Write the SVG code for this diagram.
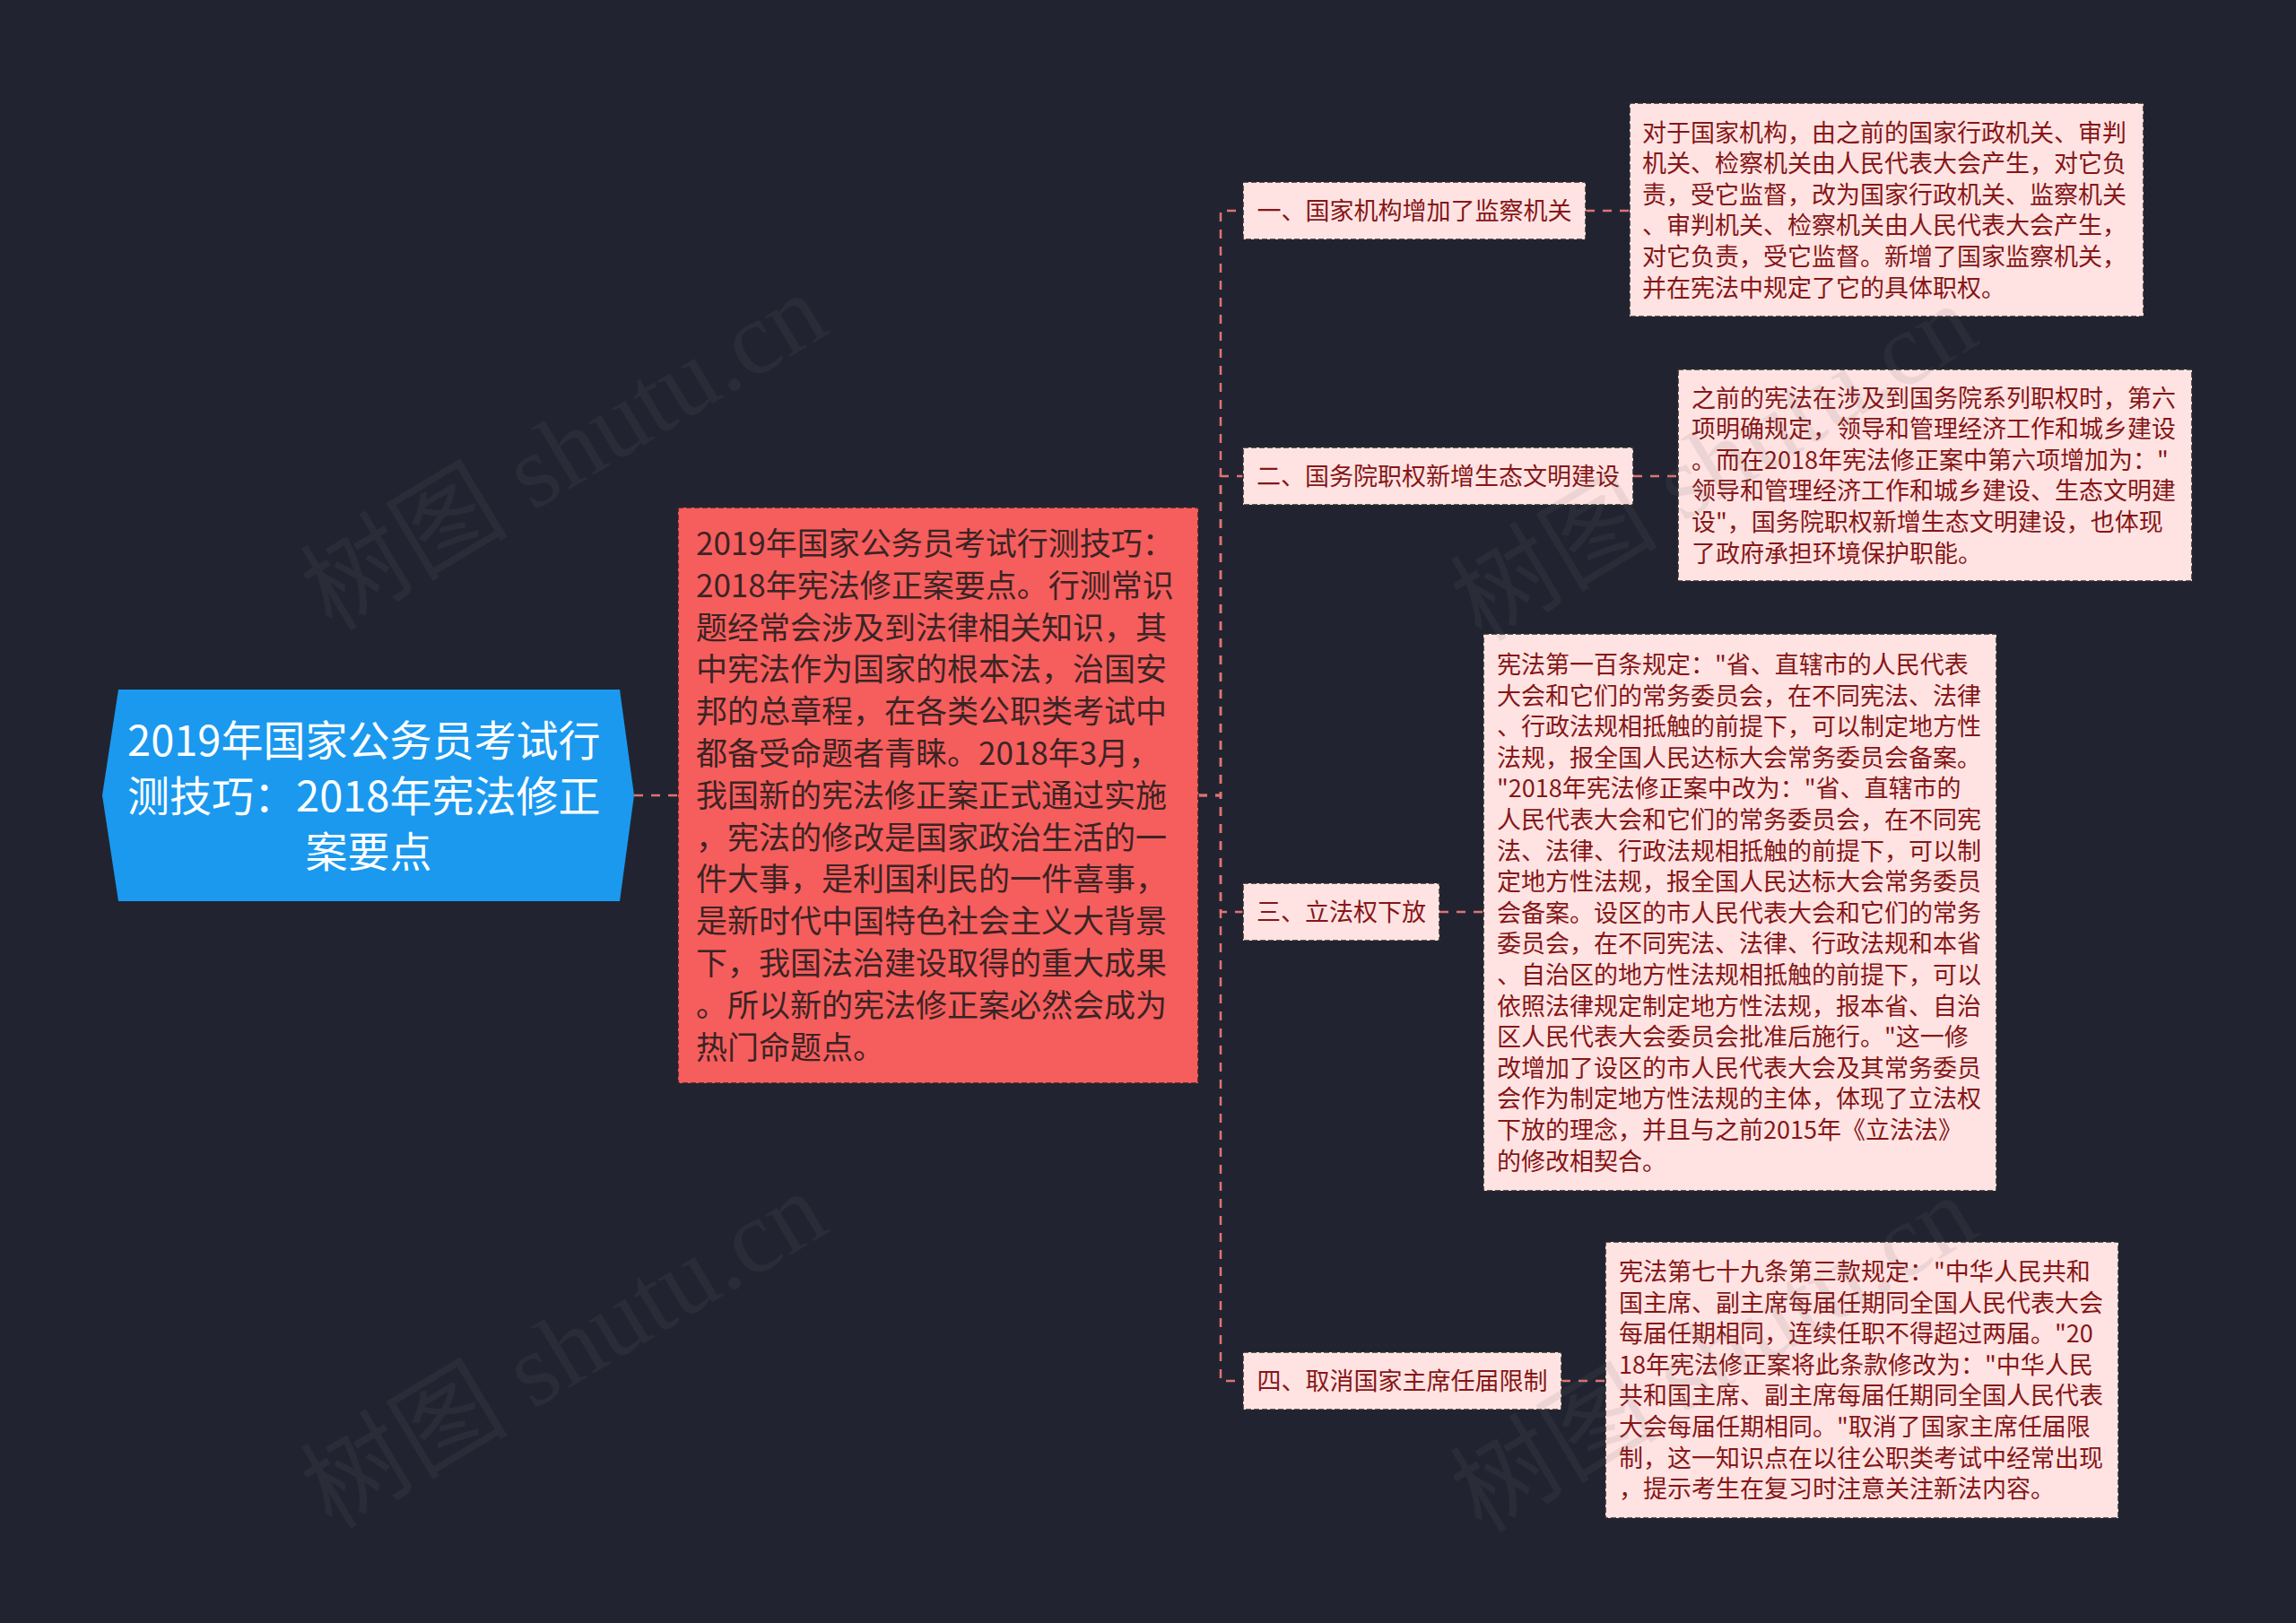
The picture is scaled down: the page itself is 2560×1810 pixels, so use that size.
<svg xmlns="http://www.w3.org/2000/svg" width="2560" height="1810" viewBox="0 0 2560 1810">
<style>
.bg{fill:#212430}
.cjk{font-family:"Noto Sans CJK SC","Noto Sans",sans-serif}
.root-shape{fill:#1A99EF}
.root-text{fill:#FFFFFF;font-size:47px;text-anchor:middle}
.main-box{fill:#F65D5D;stroke:#3a2222;stroke-width:1.5;stroke-dasharray:6 3}
.main-text{fill:#3A2424;font-size:35px}
.box{fill:#FFE3E3;stroke:#2e2a2a;stroke-width:1.5;stroke-dasharray:6 3}
.branch-text{fill:#861616;font-size:27px;text-anchor:middle}
.leaf-text{fill:#861616;font-size:27px}
.conn{fill:none;stroke:#E07373;stroke-width:2.5;stroke-dasharray:10 9}
.wm{fill:rgba(110,110,110,0.12);font-size:116px;font-family:"Liberation Serif","Noto Sans CJK SC",serif}
</style>
<rect class="bg" x="0" y="0" width="2560" height="1810"/>

<g id="connectors">
<path class="conn" d="M707 887 H756"/>
<path class="conn" d="M1336 887 H1361 V235 H1386"/>
<path class="conn" d="M1336 887 H1361 V531 H1386"/>
<path class="conn" d="M1336 887 H1361 V1017 H1386"/>
<path class="conn" d="M1336 887 H1361 V1540 H1386"/>
<path class="conn" d="M1768 235 H1817"/>
<path class="conn" d="M1821 531 H1871"/>
<path class="conn" d="M1605 1017 H1654"/>
<path class="conn" d="M1741 1540 H1790"/>
</g>

<g id="root">
<polygon class="root-shape" points="114,887 132,769 691,769 707,887 691,1005 132,1005"/>
<text class="cjk root-text" x="411" y="843">
<tspan x="411" dy="0">2019年国家公务员考试行</tspan>
<tspan x="411" dy="62">测技巧：2018年宪法修正</tspan>
<tspan x="411" dy="62">案要点</tspan>
</text>
</g>

<g id="main">
<rect class="main-box" x="756" y="566" width="580" height="642"/>
<text class="cjk main-text" x="776" y="619">
<tspan x="776" dy="0">2019年国家公务员考试行测技巧：</tspan>
<tspan x="776" dy="46.8">2018年宪法修正案要点。行测常识</tspan>
<tspan x="776" dy="46.8">题经常会涉及到法律相关知识，其</tspan>
<tspan x="776" dy="46.8">中宪法作为国家的根本法，治国安</tspan>
<tspan x="776" dy="46.8">邦的总章程，在各类公职类考试中</tspan>
<tspan x="776" dy="46.8">都备受命题者青睐。2018年3月，</tspan>
<tspan x="776" dy="46.8">我国新的宪法修正案正式通过实施</tspan>
<tspan x="776" dy="46.8">，宪法的修改是国家政治生活的一</tspan>
<tspan x="776" dy="46.8">件大事，是利国利民的一件喜事，</tspan>
<tspan x="776" dy="46.8">是新时代中国特色社会主义大背景</tspan>
<tspan x="776" dy="46.8">下，我国法治建设取得的重大成果</tspan>
<tspan x="776" dy="46.8">。所以新的宪法修正案必然会成为</tspan>
<tspan x="776" dy="46.8">热门命题点。</tspan>
</text>
</g>

<g id="branch1">
<rect class="box" x="1386" y="203" width="382" height="64"/>
<text class="cjk branch-text" x="1577" y="245">一、国家机构增加了监察机关</text>
</g>
<g id="branch2">
<rect class="box" x="1386" y="499" width="435" height="64"/>
<text class="cjk branch-text" x="1603.5" y="541">二、国务院职权新增生态文明建设</text>
</g>
<g id="branch3">
<rect class="box" x="1386" y="985" width="219" height="64"/>
<text class="cjk branch-text" x="1495.5" y="1027">三、立法权下放</text>
</g>
<g id="branch4">
<rect class="box" x="1386" y="1508" width="355" height="64"/>
<text class="cjk branch-text" x="1563.5" y="1550">四、取消国家主席任届限制</text>
</g>

<g id="leaf1">
<rect class="box" x="1817" y="115" width="573" height="238"/>
<text class="cjk leaf-text" x="1831" y="157.5">
<tspan x="1831" dy="0">对于国家机构，由之前的国家行政机关、审判</tspan>
<tspan x="1831" dy="34.6">机关、检察机关由人民代表大会产生，对它负</tspan>
<tspan x="1831" dy="34.6">责，受它监督，改为国家行政机关、监察机关</tspan>
<tspan x="1831" dy="34.6">、审判机关、检察机关由人民代表大会产生，</tspan>
<tspan x="1831" dy="34.6">对它负责，受它监督。新增了国家监察机关，</tspan>
<tspan x="1831" dy="34.6">并在宪法中规定了它的具体职权。</tspan>
</text>
</g>

<g id="leaf2">
<rect class="box" x="1871" y="412" width="573" height="236"/>
<text class="cjk leaf-text" x="1886" y="453.5">
<tspan x="1886" dy="0">之前的宪法在涉及到国务院系列职权时，第六</tspan>
<tspan x="1886" dy="34.6">项明确规定，领导和管理经济工作和城乡建设</tspan>
<tspan x="1886" dy="34.6">。而在2018年宪法修正案中第六项增加为："</tspan>
<tspan x="1886" dy="34.6">领导和管理经济工作和城乡建设、生态文明建</tspan>
<tspan x="1886" dy="34.6">设"，国务院职权新增生态文明建设，也体现</tspan>
<tspan x="1886" dy="34.6">了政府承担环境保护职能。</tspan>
</text>
</g>

<g id="leaf3">
<rect class="box" x="1654" y="707" width="572" height="621"/>
<text class="cjk leaf-text" x="1669" y="751">
<tspan x="1669" dy="0">宪法第一百条规定："省、直辖市的人民代表</tspan>
<tspan x="1669" dy="34.6">大会和它们的常务委员会，在不同宪法、法律</tspan>
<tspan x="1669" dy="34.6">、行政法规相抵触的前提下，可以制定地方性</tspan>
<tspan x="1669" dy="34.6">法规，报全国人民达标大会常务委员会备案。</tspan>
<tspan x="1669" dy="34.6">"2018年宪法修正案中改为："省、直辖市的</tspan>
<tspan x="1669" dy="34.6">人民代表大会和它们的常务委员会，在不同宪</tspan>
<tspan x="1669" dy="34.6">法、法律、行政法规相抵触的前提下，可以制</tspan>
<tspan x="1669" dy="34.6">定地方性法规，报全国人民达标大会常务委员</tspan>
<tspan x="1669" dy="34.6">会备案。设区的市人民代表大会和它们的常务</tspan>
<tspan x="1669" dy="34.6">委员会，在不同宪法、法律、行政法规和本省</tspan>
<tspan x="1669" dy="34.6">、自治区的地方性法规相抵触的前提下，可以</tspan>
<tspan x="1669" dy="34.6">依照法律规定制定地方性法规，报本省、自治</tspan>
<tspan x="1669" dy="34.6">区人民代表大会委员会批准后施行。"这一修</tspan>
<tspan x="1669" dy="34.6">改增加了设区的市人民代表大会及其常务委员</tspan>
<tspan x="1669" dy="34.6">会作为制定地方性法规的主体，体现了立法权</tspan>
<tspan x="1669" dy="34.6">下放的理念，并且与之前2015年《立法法》</tspan>
<tspan x="1669" dy="34.6">的修改相契合。</tspan>
</text>
</g>

<g id="leaf4">
<rect class="box" x="1790" y="1385" width="572" height="308"/>
<text class="cjk leaf-text" x="1805" y="1428">
<tspan x="1805" dy="0">宪法第七十九条第三款规定："中华人民共和</tspan>
<tspan x="1805" dy="34.6">国主席、副主席每届任期同全国人民代表大会</tspan>
<tspan x="1805" dy="34.6">每届任期相同，连续任职不得超过两届。"20</tspan>
<tspan x="1805" dy="34.6">18年宪法修正案将此条款修改为："中华人民</tspan>
<tspan x="1805" dy="34.6">共和国主席、副主席每届任期同全国人民代表</tspan>
<tspan x="1805" dy="34.6">大会每届任期相同。"取消了国家主席任届限</tspan>
<tspan x="1805" dy="34.6">制，这一知识点在以往公职类考试中经常出现</tspan>
<tspan x="1805" dy="34.6">，提示考生在复习时注意关注新法内容。</tspan>
</text>
</g>

<g id="watermarks">
<text class="wm" transform="translate(370,705) rotate(-31)">树图 shutu.cn</text>
<text class="wm" transform="translate(370,1707) rotate(-31)">树图 shutu.cn</text>
<text class="wm" transform="translate(1652,717) rotate(-31)">树图 shutu.cn</text>
<text class="wm" transform="translate(1652,1711) rotate(-31)">树图 shutu.cn</text>
</g>
</svg>
